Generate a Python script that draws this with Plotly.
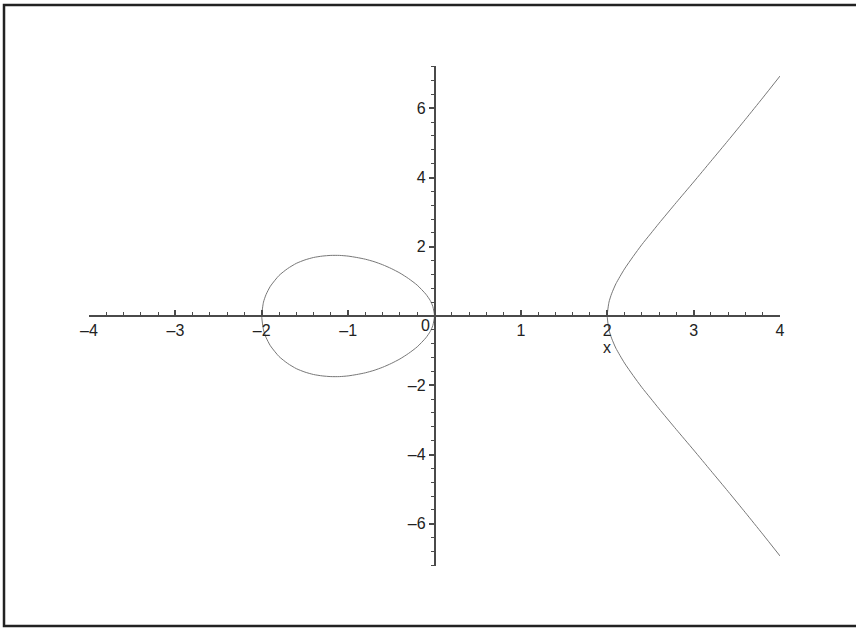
import plotly.graph_objects as go

# closed oval between x=-2 and x=0 (upper half then lower half)
oval_x = [-2.0, -1.98, -1.95, -1.9, -1.8, -1.7, -1.6, -1.5, -1.4, -1.3, -1.2, -1.1, -1.0,
          -0.9, -0.8, -0.7, -0.6, -0.5, -0.4, -0.3, -0.2, -0.1, -0.05, -0.02, 0.0,
          -0.02, -0.05, -0.1, -0.2, -0.3, -0.4, -0.5, -0.6, -0.7, -0.8, -0.9, -1.0,
          -1.1, -1.2, -1.3, -1.4, -1.5, -1.6, -1.7, -1.8, -1.9, -1.95, -1.98, -2.0]
oval_y = [0.0, 0.40, 0.62, 0.86, 1.17, 1.37, 1.52, 1.62, 1.69, 1.73, 1.75, 1.75, 1.73,
          1.69, 1.64, 1.57, 1.48, 1.37, 1.24, 1.08, 0.89, 0.63, 0.45, 0.28, 0.0,
          -0.28, -0.45, -0.63, -0.89, -1.08, -1.24, -1.37, -1.48, -1.57, -1.64, -1.69, -1.73,
          -1.75, -1.75, -1.73, -1.69, -1.62, -1.52, -1.37, -1.17, -0.86, -0.62, -0.40, 0.0]

# open branch to the right of x=2
branch_x = [4.0, 3.8, 3.6, 3.4, 3.2, 3.0, 2.8, 2.6, 2.5, 2.4, 2.3, 2.2, 2.1, 2.05, 2.02, 2.0,
            2.02, 2.05, 2.1, 2.2, 2.3, 2.4, 2.5, 2.6, 2.8, 3.0, 3.2, 3.4, 3.6, 3.8, 4.0]
branch_y = [-6.93, -6.30, -5.68, -5.07, -4.47, -3.87, -3.28, -2.68, -2.37, -2.06, -1.72, -1.36,
            -0.93, -0.64, -0.40, 0.0, 0.40, 0.64, 0.93, 1.36, 1.72, 2.06, 2.37, 2.68, 3.28,
            3.87, 4.47, 5.07, 5.68, 6.30, 6.93]

x_ticks = [-4, -3, -2, -1, 0, 1, 2, 3, 4]
x_labels = ["–4", "–3", "–2", "–1", "", "1", "2", "3", "4"]
y_ticks = [-6, -4, -2, 0, 2, 4, 6]
y_labels = ["–6", "–4", "–2", "", "2", "4", "6"]

curve = dict(color="#777777", width=1, shape="spline", smoothing=0.6)
axis_col = "#4a4a4a"

fig = go.Figure()
fig.add_trace(go.Scatter(x=oval_x, y=oval_y, mode="lines", line=curve))
fig.add_trace(go.Scatter(x=branch_x, y=branch_y, mode="lines", line=curve))

font = dict(family="Liberation Sans, Arial, sans-serif", size=16, color="#222222")

fig.update_layout(
    width=856, height=629,
    margin=dict(l=89, r=76, t=66, b=63),
    plot_bgcolor="white", paper_bgcolor="white",
    showlegend=False,
    font=font,
    xaxis=dict(
        range=[-4, 4], anchor="free", position=0.5,
        showgrid=False, zeroline=False,
        showline=True, linecolor=axis_col, linewidth=1.5,
        tickvals=x_ticks, ticktext=x_labels,
        ticks="inside", ticklen=5, tickwidth=1.5, tickcolor=axis_col,
        minor=dict(dtick=0.2, ticks="inside", ticklen=3, tickwidth=1, tickcolor=axis_col),
        tickfont=font,
    ),
    yaxis=dict(
        range=[-7.22, 7.22], anchor="free", position=0.5,
        showgrid=False, zeroline=False,
        showline=True, linecolor=axis_col, linewidth=1.5,
        tickvals=y_ticks, ticktext=y_labels,
        ticks="outside", ticklen=5, tickwidth=1.5, tickcolor=axis_col,
        minor=dict(dtick=0.4, ticks="outside", ticklen=3, tickwidth=1, tickcolor=axis_col),
        tickfont=font,
    ),
)

# origin label and axis name
fig.add_annotation(x=0, y=0, text="0", showarrow=False, xanchor="right",
                   yanchor="top", xshift=-3, yshift=1, font=font)
fig.add_annotation(x=2, y=0, text="x", showarrow=False, xanchor="center",
                   yanchor="top", yshift=-21, font=font)

# outer frame
fig.add_shape(type="rect", xref="paper", yref="paper",
              x0=-0.123, x1=1.115, y0=-0.12, y1=1.122,
              line=dict(color="#222222", width=2.5))

fig.write_html("out.html", config={"displayModeBar": False},
               post_script="document.body.style.margin='0';")
